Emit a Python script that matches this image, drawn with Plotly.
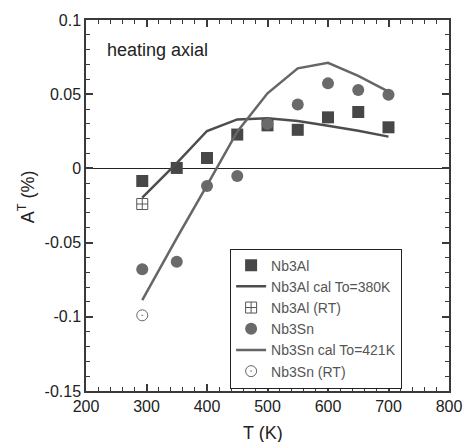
import plotly.graph_objects as go

# Temperatures (K)
t_meas = [293, 350, 400, 450, 500, 550, 600, 650, 700]
t_rt = [293]

# Nb3Al
al_meas = [-0.0085, 0.0003, 0.007, 0.0228, 0.029, 0.026, 0.0344, 0.038, 0.0277]
al_cal = [-0.0197, 0.0035, 0.0252, 0.033, 0.0338, 0.032, 0.0288, 0.0254, 0.0214]
al_rt = [-0.024]

# Nb3Sn
sn_meas = [-0.068, -0.0629, -0.0119, -0.0051, 0.030, 0.043, 0.0573, 0.0528, 0.0497]
sn_cal = [-0.0887, -0.047, -0.0115, 0.0247, 0.0506, 0.0674, 0.0712, 0.0623, 0.0517]
sn_rt = [-0.099]

# Axis ticks
x_ticks = [200, 300, 400, 500, 600, 700, 800]
y_ticks = [-0.15, -0.1, -0.05, 0, 0.05, 0.1]
y_ticktext = ["-0.15", "-0.1", "-0.05", "0", "0.05", "0.1"]

SQ = "#474747"
CI = "#6a6a6a"
LN_AL = "#4d4d4d"
LN_SN = "#666666"
AX = "#3a3a3a"
FONT = "Liberation Sans, Arial"

fig = go.Figure()
fig.add_trace(go.Scatter(x=t_meas, y=al_meas, mode="markers", name="Nb3Al",
                         marker=dict(symbol="square", size=12, color=SQ)))
fig.add_trace(go.Scatter(x=t_meas, y=al_cal, mode="lines", name="Nb3Al cal To=380K",
                         line=dict(color=LN_AL, width=2.5)))
fig.add_trace(go.Scatter(x=t_rt, y=al_rt, mode="markers", name="Nb3Al (RT)",
                         marker=dict(symbol="square-cross-open", size=11, color="#555",
                                     line=dict(width=1))))
fig.add_trace(go.Scatter(x=t_meas, y=sn_meas, mode="markers", name="Nb3Sn",
                         marker=dict(symbol="circle", size=12, color=CI)))
fig.add_trace(go.Scatter(x=t_meas, y=sn_cal, mode="lines", name="Nb3Sn cal To=421K",
                         line=dict(color=LN_SN, width=2.5)))
fig.add_trace(go.Scatter(x=t_rt, y=sn_rt, mode="markers", name="Nb3Sn (RT)",
                         marker=dict(symbol="circle-open-dot", size=11, color="#666",
                                     line=dict(width=1))))

# Framed axes with inward major and minor ticks on all four sides
axis_common = dict(
    showgrid=False, showline=True, linecolor=AX, linewidth=1.5,
    mirror="allticks", ticks="inside", ticklen=7, tickcolor=AX, tickwidth=1.5,
    tickfont=dict(family=FONT, size=16, color="#222"),
    automargin=False,
)
fig.update_xaxes(range=[200, 800], tickmode="array", tickvals=x_ticks,
                 ticktext=[str(v) for v in x_ticks], zeroline=False,
                 minor=dict(ticks="inside", ticklen=4, dtick=20, tickcolor=AX, tickwidth=1),
                 **axis_common)
fig.update_yaxes(range=[-0.15, 0.1], tickmode="array", tickvals=y_ticks, ticktext=y_ticktext,
                 zeroline=True, zerolinecolor="#222", zerolinewidth=1.2,
                 minor=dict(ticks="inside", ticklen=4, dtick=0.01, tickcolor=AX, tickwidth=1),
                 **axis_common)

# Axis titles
fig.add_annotation(text="T (K)", xref="paper", yref="paper", x=0.488, y=-0.113,
                   xanchor="center", yanchor="middle", showarrow=False,
                   font=dict(family=FONT, size=18, color="#222"))
fig.add_annotation(text="A<sup>T</sup> (%)", xref="paper", yref="paper", x=-0.162, y=0.523,
                   xanchor="center", yanchor="middle", showarrow=False, textangle=-90,
                   font=dict(family=FONT, size=18, color="#222"))

fig.add_annotation(text="heating axial", xref="paper", yref="paper", x=0.052, y=0.92,
                   xanchor="left", yanchor="middle", showarrow=False,
                   font=dict(family=FONT, size=18, color="#222"))

fig.update_layout(
    width=468, height=442,
    margin=dict(l=86, r=19, t=20, b=51),
    paper_bgcolor="white", plot_bgcolor="white",
    showlegend=True,
    legend=dict(x=0.397, y=0.384, xanchor="left", yanchor="top",
                bordercolor="#222", borderwidth=1, bgcolor="white",
                font=dict(family=FONT, size=14, color="#555"),
                tracegroupgap=0, itemwidth=30),
)

fig.write_html("out.html")
